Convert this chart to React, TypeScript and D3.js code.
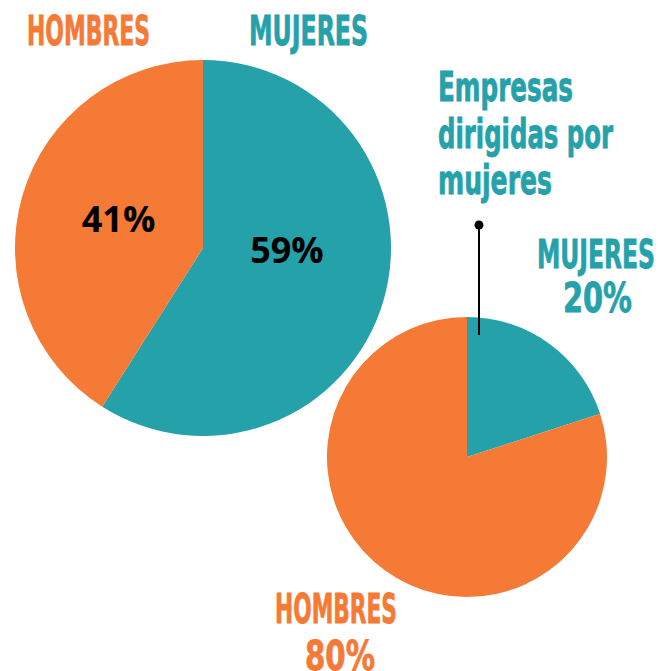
import React from "react";
import * as d3 from "d3";

const bigCategories = ["MUJERES", "HOMBRES"];
const bigValues = [59, 41];
const smallCategories = ["MUJERES", "HOMBRES"];
const smallValues = [20, 80];
const titleLines = ["Empresas", "dirigidas por", "mujeres"];

const TEAL = "#25A1AA";
const ORANGE = "#F47A36";
const colors: Record<string, string> = { MUJERES: TEAL, HOMBRES: ORANGE };
const COND = "'DejaVu Sans Condensed', 'DejaVu Sans', sans-serif";

function CondText(props: any) {
  const { x, y, w, size, fill, anchor, children } = props;
  return (
    <text
      x={x}
      y={y}
      fontFamily={COND}
      fontWeight="bold"
      fontSize={size}
      fill={fill}
      stroke={fill}
      strokeWidth={0.8}
      textAnchor={anchor || "start"}
      textLength={w}
      lengthAdjust="spacingAndGlyphs"
    >
      {children}
    </text>
  );
}

export default function App() {
  const W = 660, H = 671;
  const pie = d3.pie<number>().sort(null).value((d) => d);
  const bigArcs = pie(bigValues);
  const smallArcs = pie(smallValues);
  const bigR = 188, smallR = 140;
  const bigArc = d3.arc<d3.PieArcDatum<number>>().innerRadius(0).outerRadius(bigR);
  const smallArc = d3.arc<d3.PieArcDatum<number>>().innerRadius(0).outerRadius(smallR);
  const labelArc = d3.arc<d3.PieArcDatum<number>>().innerRadius(88).outerRadius(88);
  const c41 = labelArc.centroid(bigArcs[1]);

  return (
    <svg width={W} height={H} style={{ position: "absolute", left: 0, top: 0 }}>
      <g transform="translate(203,248)">
        {bigArcs.map((a, i) => (
          <path key={i} d={bigArc(a) || ""} fill={colors[bigCategories[i]]} />
        ))}
        <text x={c41[0]} y={c41[1] + 9} textAnchor="middle" fontFamily="'Open Sans', sans-serif" fontWeight="bold" fontSize={36} fill="#000">
          {bigValues[1]}%
        </text>
        <text x={84} y={15} textAnchor="middle" fontFamily="'Open Sans', sans-serif" fontWeight="bold" fontSize={36} fill="#000">
          {bigValues[0]}%
        </text>
      </g>
      <g transform="translate(467,457)">
        {smallArcs.map((a, i) => (
          <path key={i} d={smallArc(a) || ""} fill={colors[smallCategories[i]]} />
        ))}
      </g>
      {/* pointer */}
      <line x1={479} y1={225} x2={479} y2={335} stroke="#000" strokeWidth={2} />
      <circle cx={479} cy={225} r={4.5} fill="#000" />

      <CondText x={27} y={45} w={123} size={41} fill={ORANGE}>{bigCategories[1]}</CondText>
      <CondText x={249} y={45} w={119} size={41} fill={TEAL}>{bigCategories[0]}</CondText>

      <CondText x={438} y={101} w={135} size={40} fill={TEAL}>{titleLines[0]}</CondText>
      <CondText x={438} y={148} w={175} size={40} fill={TEAL}>{titleLines[1]}</CondText>
      <CondText x={438} y={194} w={114} size={40} fill={TEAL}>{titleLines[2]}</CondText>

      <CondText x={537} y={268} w={118} size={39} fill={TEAL}>{smallCategories[0]}</CondText>
      <CondText x={563} y={312} w={69} size={40} fill={TEAL}>{smallValues[0]}%</CondText>

      <CondText x={275} y={623} w={122} size={41} fill={ORANGE}>{smallCategories[1]}</CondText>
      <CondText x={305} y={670} w={70} size={41} fill={ORANGE}>{smallValues[1]}%</CondText>
    </svg>
  );
}
